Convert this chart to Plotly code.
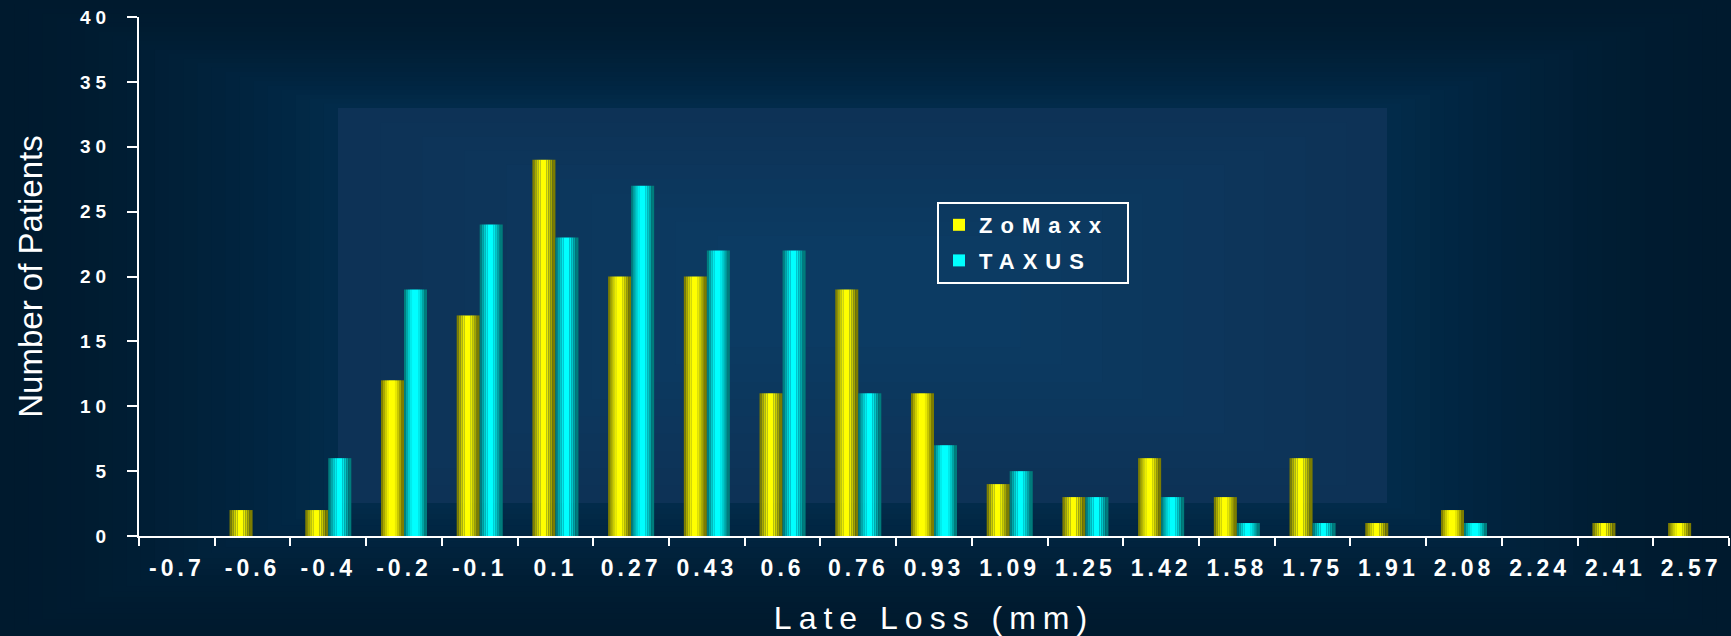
import plotly.graph_objects as go

categories = ["-0.7", "-0.6", "-0.4", "-0.2", "-0.1", "0.1", "0.27", "0.43", "0.6", "0.76",
              "0.93", "1.09", "1.25", "1.42", "1.58", "1.75", "1.91", "2.08", "2.24", "2.41", "2.57"]
zomaxx = [0, 2, 2, 12, 17, 29, 20, 20, 11, 19, 11, 4, 3, 6, 3, 6, 1, 2, 0, 1, 1]
taxus = [0, 0, 6, 19, 24, 23, 27, 22, 22, 11, 7, 5, 3, 3, 1, 1, 0, 1, 0, 0, 0]

# cylinder-like shading strips (relative widths) for each series
strip_w = [2, 2, 2, 2, 6, 2, 2, 2, 3]
yellow_strips = ['#7f7f00', '#a8a800', '#cccc00', '#ecec00', '#ffff00', '#e8e800', '#c8c800', '#a4a400', '#7c7c00']
cyan_strips = ['#007f7f', '#00a8a8', '#00cccc', '#00ecec', '#00ffff', '#00e8e8', '#00c8c8', '#00a4a4', '#007c7c']

BAR_W = 0.304
L, R, T, B = 139, 2, 17, 100
W, H = 1731, 636
PW, PH = W - L - R, H - T - B

fig = go.Figure()


def add_series(name, values, colors, start):
    tot = sum(strip_w)
    acc = 0
    for i, (sw, c) in enumerate(zip(strip_w, colors)):
        fig.add_trace(go.Bar(
            x=categories, y=values, name=name, legendgroup=name,
            showlegend=(i == 4),
            width=BAR_W * sw / tot, offset=start + BAR_W * acc / tot,
            marker=dict(color=c, line=dict(width=0)),
            hoverinfo='x+y+name'))
        acc += sw


add_series('ZoMaxx', zomaxx, yellow_strips, -BAR_W)
add_series('TAXUS', taxus, cyan_strips, 0.0)


# background: stepped rectangular gradient
def px2paper(x0, y0, x1, y1):
    return dict(x0=(x0 - L) / PW, x1=(x1 - L) / PW, y0=(H - B - y0) / PH, y1=(H - B - y1) / PH)


def hex2rgb(h):
    h = h.lstrip('#')
    return tuple(int(h[i:i + 2], 16) for i in (0, 2, 4))


def lerp(a, b, t):
    return tuple(round(a[i] + (b[i] - a[i]) * t) for i in range(3))


shapes = []
outer = (0, 0, W, H)
inner = (338, 108, 1387, 503)
center = (760, 250, 980, 330)
c_out = hex2rgb('#001a2e')
c_mid = hex2rgb('#022c4c')
c_in = hex2rgb('#0d3256')
c_cen = hex2rgb('#0c3c64')
N = 24
for k in range(N):
    t = k / N
    rect = tuple(outer[i] + (inner[i] - outer[i]) * t for i in range(4))
    col = lerp(c_out, c_mid, t ** 1.6)
    shapes.append(dict(type='rect', xref='paper', yref='paper', layer='below',
                       line=dict(width=0), fillcolor='rgb(%d,%d,%d)' % col, **px2paper(*rect)))
M = 10
for k in range(M):
    t = k / M
    rect = tuple(inner[i] + (center[i] - inner[i]) * t for i in range(4))
    col = lerp(c_in, c_cen, t)
    shapes.append(dict(type='rect', xref='paper', yref='paper', layer='below',
                       line=dict(width=0), fillcolor='rgb(%d,%d,%d)' % col, **px2paper(*rect)))

fig.update_layout(
    width=W, height=H,
    margin=dict(l=L, r=R, t=T, b=B, autoexpand=False),
    paper_bgcolor='#001a2e', plot_bgcolor='rgba(0,0,0,0)',
    barmode='overlay',
    shapes=shapes,
    font=dict(family='Liberation Sans, Arial, sans-serif', color='white'),
    showlegend=True,
    legend=dict(x=(937 - L) / PW, y=(H - B - 202) / PH, xanchor='left', yanchor='top',
                bgcolor='rgba(0,0,0,0)', bordercolor='white', borderwidth=2,
                font=dict(size=22, color='white', weight='bold'),
                traceorder='grouped', tracegroupgap=4),
    xaxis=dict(type='category', range=[-0.5, len(categories) - 0.5],
               showline=True, linecolor='white', linewidth=2, showgrid=False, zeroline=False,
               ticks='outside', tickson='boundaries', ticklen=8, tickwidth=2, tickcolor='white',
               tickfont=dict(size=23, color='white', weight='bold'), ticklabelstandoff=10,
               title=dict(text='Late Loss (mm)', font=dict(size=32, color='white'), standoff=30),
               fixedrange=True),
    yaxis=dict(range=[0, 40], dtick=5, tick0=0,
               showline=True, linecolor='white', linewidth=2, showgrid=False, zeroline=False,
               ticks='outside', ticklen=10, tickwidth=2, tickcolor='white',
               tickfont=dict(size=19, color='white', weight='bold'), ticklabelstandoff=12,
               title=dict(text='Number of Patients', font=dict(size=33, color='white'), standoff=38),
               fixedrange=True),
)

post = """
var gd = document.getElementById('{plot_id}');
function spacing(){
  var set = function(sel, v){ gd.querySelectorAll(sel).forEach(function(t){ t.style.letterSpacing = v; }); };
  set('.xtick text', '4px');
  set('.ytick text', '5px');
  set('.g-xtitle text', '7px');
  var lg = gd.querySelector('.legend');
  if(lg){
    var extra = 0;
    lg.querySelectorAll('.legendtext').forEach(function(t){
      var before = t.getComputedTextLength();
      t.style.letterSpacing = '8px';
      var after = t.getComputedTextLength();
      extra = Math.max(extra, after - before);
    });
    var sb = lg.querySelector('.scrollbox');
    if(sb){ sb.removeAttribute('clip-path'); }
    var bg = lg.querySelector('rect.bg');
    if(bg && !bg.dataset.done){
      bg.setAttribute('width', parseFloat(bg.getAttribute('width')) + extra + 12);
      bg.dataset.done = '1';
    }
  }
}
spacing();
"""

fig.write_html("out.html", post_script=post)
